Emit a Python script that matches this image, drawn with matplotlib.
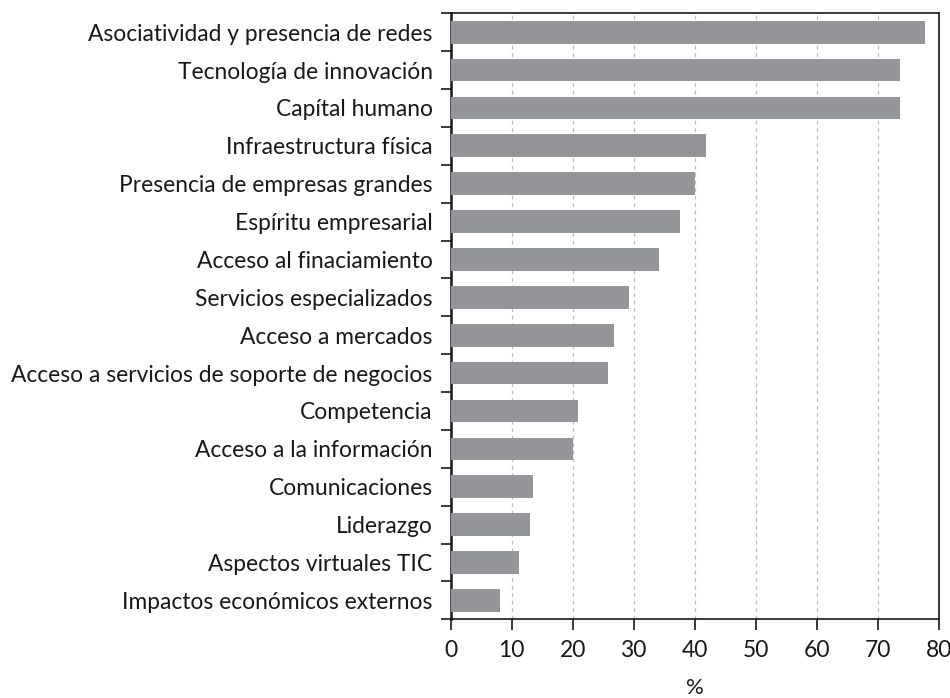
import matplotlib
matplotlib.use("Agg")
import matplotlib.pyplot as plt
import numpy as np

categories = [
    "Asociatividad y presencia de redes",
    "Tecnología de innovación",
    "Capítal humano",
    "Infraestructura física",
    "Presencia de empresas grandes",
    "Espíritu empresarial",
    "Acceso al finaciamiento",
    "Servicios especializados",
    "Acceso a mercados",
    "Acceso a servicios de soporte de negocios",
    "Competencia",
    "Acceso a la información",
    "Comunicaciones",
    "Liderazgo",
    "Aspectos virtuales TIC",
    "Impactos económicos externos",
]
values = [77.8, 73.7, 73.7, 41.9, 40.0, 37.6, 34.1, 29.3, 26.8, 25.8,
          20.8, 20.1, 13.5, 13.0, 11.2, 8.1]
x_ticks = [0, 10, 20, 30, 40, 50, 60, 70, 80]

plt.rcParams["font.family"] = ["Lato", "DejaVu Sans"]
ink = "#1a1718"

fig = plt.figure(figsize=(9.5, 6.98), dpi=100)
ax = fig.add_axes([0.4744, 0.1127, 0.5137, 0.8683])

pos = np.arange(len(categories))
ax.barh(pos, values, height=0.6, color="#939598", zorder=3)

ax.set_ylim(len(categories) - 0.5, -0.5)
ax.set_xlim(0, 80)
ax.set_xticks(x_ticks)
ax.set_xticklabels([str(t) for t in x_ticks], fontsize=16.5, color=ink)
ax.set_yticks(pos)
ax.set_yticklabels(categories, fontsize=16.4, color=ink)
ax.set_yticks(np.arange(-0.5, len(categories)), minor=True)
ax.tick_params(axis="y", which="major", length=0, pad=13)
ax.tick_params(axis="y", which="minor", length=7, width=1.2, color=ink)
ax.tick_params(axis="x", length=8, width=1.2, color=ink, pad=7)

ax.grid(axis="x", linestyle=(0, (3, 3)), color="#bdbdbd", linewidth=0.9, zorder=0)
for s in ax.spines.values():
    s.set_color(ink)
    s.set_linewidth(1.2)
ax.spines["left"].set_linewidth(1.8)

ax.set_xlabel("%", fontsize=16, color=ink, labelpad=12)

fig.savefig("out.png", dpi=100)
